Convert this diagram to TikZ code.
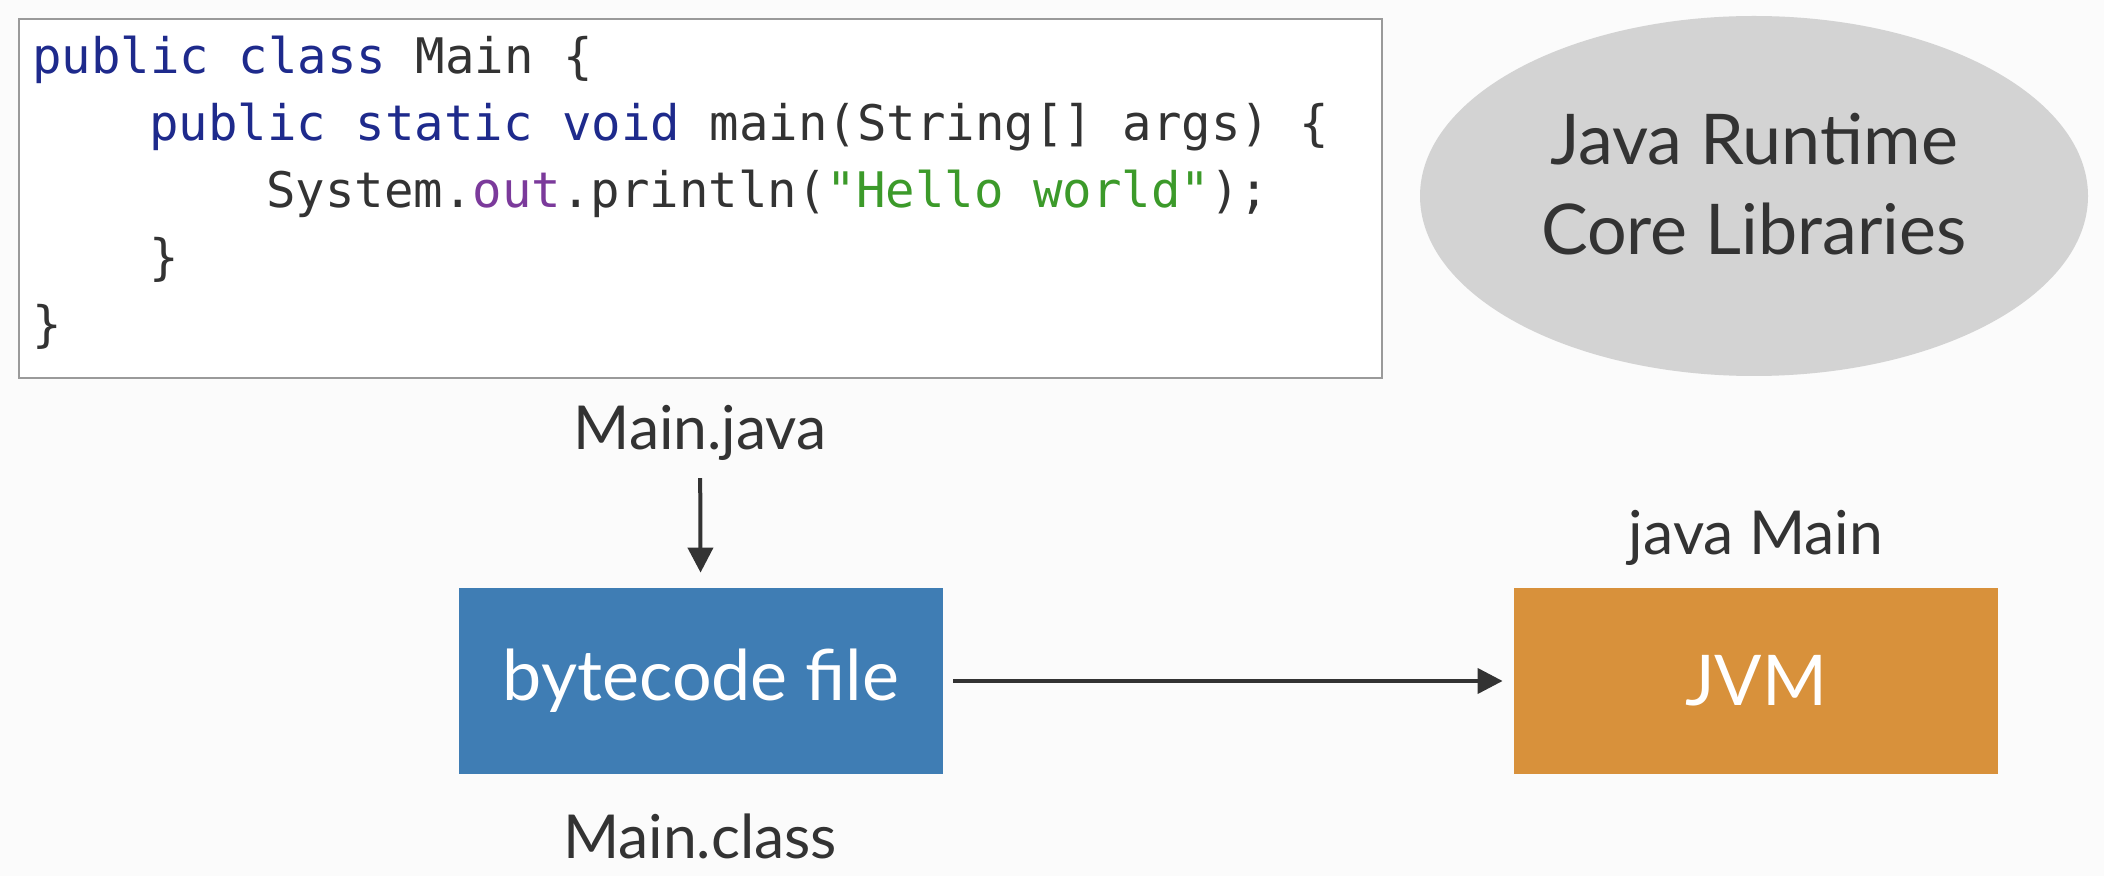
\documentclass[tikz,border=0pt]{standalone}
\usepackage{fontspec}
\setmainfont{Lato}
\newfontfamily\codefont{DejaVu Sans Mono}
\usetikzlibrary{shapes.geometric,arrows.meta}
\definecolor{bgcol}{HTML}{FBFBFB}
\definecolor{kwcol}{HTML}{1E2A8C}
\definecolor{txtcol}{HTML}{333333}
\definecolor{outcol}{HTML}{7B3A9B}
\definecolor{strcol}{HTML}{3C9A2A}
\definecolor{framecol}{HTML}{9A9A9A}
\definecolor{ellcol}{HTML}{D3D3D3}
\definecolor{bluecol}{HTML}{3F7DB4}
\definecolor{orangecol}{HTML}{D8913B}
\definecolor{arrcol}{HTML}{333333}
\tikzset{
  codebox/.style={draw=framecol, line width=1.2pt, fill=white, inner sep=0pt},
  codeline/.style={anchor=base west, inner sep=0pt, text=txtcol, font=\codefont\fontsize{24.5}{33.5}\selectfont},
  ellnode/.style={ellipse, fill=ellcol, inner sep=0pt, minimum width=334pt, minimum height=180pt},
  elltext/.style={inner sep=0pt, text=txtcol, align=center, font=\fontsize{35}{45}\selectfont},
  filebox/.style={rectangle, inner sep=0pt, minimum width=242pt, minimum height=93pt, text=white, font=\fontsize{35}{40}\selectfont},
  label/.style={inner sep=2pt, text=txtcol, font=\fontsize{30.3}{36}\selectfont},
  arr/.style={draw=arrcol, line width=2pt, -{Triangle[length=12.5pt,width=12.5pt]}}
}
\begin{document}
\begin{tikzpicture}[x=0.5pt,y=-0.5pt]
\fill[bgcol] (0,0) rectangle (2104,876);
\useasboundingbox (0,0) rectangle (2104,876);

\node[codebox, minimum width=681.5pt, minimum height=179.5pt] (code) at (700.5,198.5) {};
\node[codeline] (l1) at (32,74) {\textcolor{kwcol}{public class} Main \{};
\node[codeline] (l2) at (149,141) {\textcolor{kwcol}{public static void} main(String[] args) \{};
\node[codeline] (l3) at (266,208) {System.\textcolor{outcol}{out}.println(\textcolor{strcol}{"Hello world"});};
\node[codeline] (l4) at (149,275) {\}};
\node[codeline] (l5) at (32,342) {\}};

\node[ellnode] (jre) at (1754,196) {};
\node[elltext] (jretext) at (1754,184) {Java Runtime\\Core Libraries};

\node[label] (mainjava) at (700,433) {Main.java};
\node[filebox, fill=bluecol] (bc) at (701,681) {bytecode file};
\node[label] (mainclass) at (700,836) {Main.class};

\node[label] (javamain) at (1756,538) {java Main};
\node[filebox, fill=orangecol] (jvm) at (1756,681) {JVM};

\draw[arr, shorten <=6.5pt, shorten >=7.5pt] (mainjava) -- (bc);
\draw[arr, shorten <=5pt, shorten >=5.5pt] (bc) -- (jvm);
\end{tikzpicture}
\end{document}
